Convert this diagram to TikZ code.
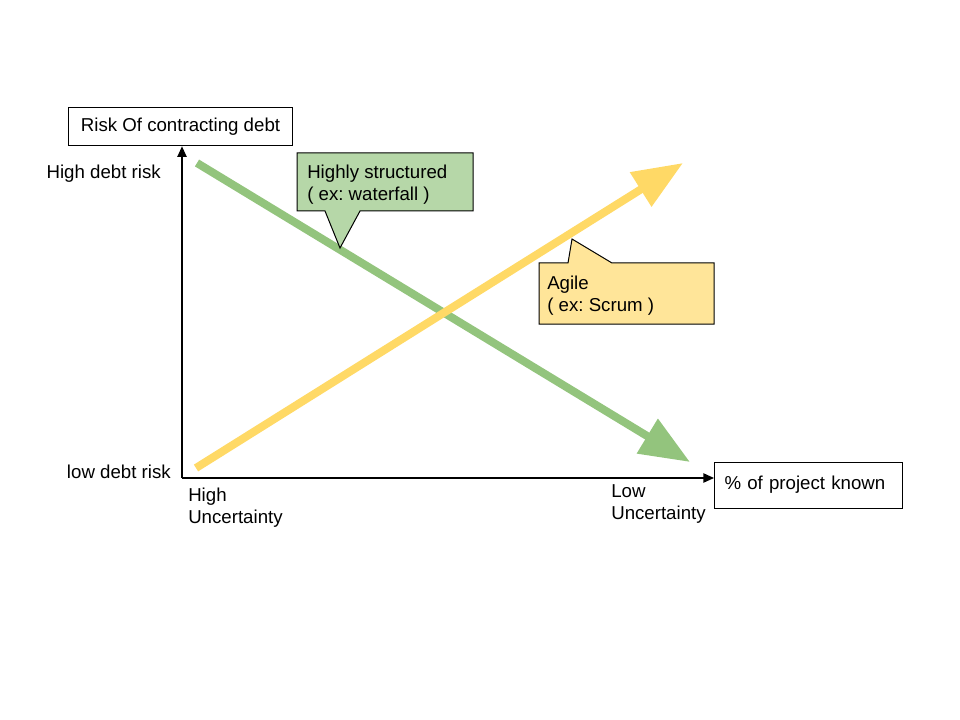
\documentclass[tikz,border=0pt]{standalone}
\usepackage{fontspec}
\setmainfont{Liberation Sans}
\usepackage{xcolor}
\usepackage{tikz}
\usetikzlibrary{arrows.meta,positioning,calc}
\definecolor{greenline}{HTML}{93C47D}
\definecolor{yellowline}{HTML}{FFD966}
\definecolor{greenfill}{HTML}{B6D7A8}
\definecolor{yellowfill}{HTML}{FFE599}
\frenchspacing

\begin{document}
\begin{tikzpicture}[
    x=0.75pt, y=-0.75pt,
    font=\fontsize{14}{16.5}\selectfont,
    box/.style={rectangle, draw, line width=0.75pt, inner xsep=9pt, minimum height=29pt},
    bubble/.style={draw, line width=0.75pt, line join=miter},
    tag/.style={inner sep=0pt, align=left},
    axis/.style={-{Triangle[length=8pt,width=7pt]}, line width=1.1pt},
    trend/.style={line width=6pt, -{Triangle[length=37.5pt,width=29pt]}}
]
    \useasboundingbox (0,0) rectangle (960,720);

    % Axis boxes
    \node[box] (risk) at (180.5,126.5) {Risk Of contracting debt};
    \node[box, anchor=west, text width=126pt, align=left, minimum height=34.5pt, inner xsep=7.5pt] (known) at (714,485) {\% of project known};

    % Axes
    \coordinate (origin) at (182,478);
    \draw[axis] (origin) -- (origin |- risk.south);
    \draw[axis] (origin) -- (origin -| known.west);

    % Axis labels
    \node[tag, anchor=east] (high) at (161,174) {High debt risk};
    \node[tag, anchor=east] (low) at (171,472) {low debt risk};
    \node[tag, anchor=west] (uncertain) at (188,508) {High\\Uncertainty};
    \node[tag, anchor=west] (certain) at (611,504) {Low\\Uncertainty};

    % Trends
    \coordinate (wstart) at (197,163);
    \coordinate (wend) at (690,462);
    \coordinate (astart) at (196,468);
    \coordinate (aend) at (683,163);
    \draw[trend, greenline] (wstart) -- (wend);
    \draw[trend, yellowline] (astart) -- (aend);

    % Waterfall callout
    \coordinate (wtip) at (340,248);
    \filldraw[bubble, fill=greenfill] (297,153) -- (473,153) -- (473,211) -- (360,211) -- (wtip) -- (325,211) -- (297,211) -- cycle;
    \node[tag, anchor=west] (waterfall) at (307,185) {Highly structured\\( ex: waterfall )};

    % Agile callout
    \coordinate (atip) at (572,239);
    \filldraw[bubble, fill=yellowfill] (539,263) -- (568,263) -- (atip) -- (612,263) -- (714,263) -- (714,324) -- (539,324) -- cycle;
    \node[tag, anchor=west] (agile) at (547,296) {Agile\\( ex: Scrum )};

\end{tikzpicture}
\end{document}
